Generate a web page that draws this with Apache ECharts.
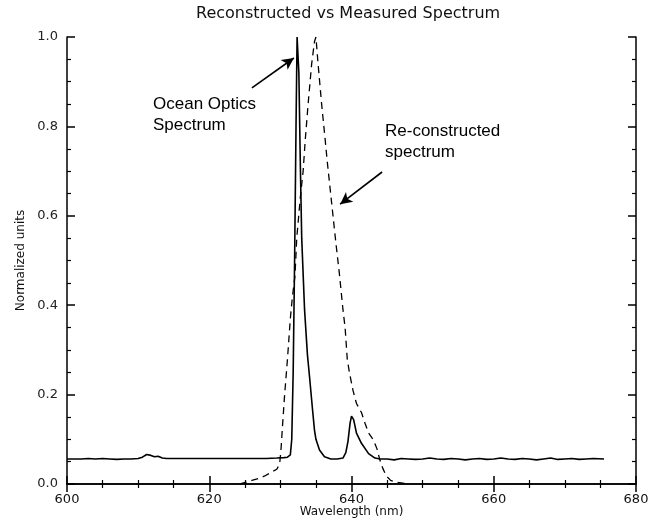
<!DOCTYPE html>
<html>
<head>
<meta charset="utf-8">
<script src="https://cdn.jsdelivr.net/npm/echarts@6/dist/echarts.min.js"></script>
<style>
html, body { margin: 0; padding: 0; background: #fff; }
#chart { width: 651px; height: 521px; }
</style>
</head>
<body>
<div id="chart"></div>
<script>
// Ocean Optics (measured) spectrum
const solidX = [600, 602, 603, 604, 605, 606, 607, 608, 609, 610, 610.6, 611.2, 611.8, 612.3, 612.8, 613.4, 614, 616, 618, 620, 622, 624, 626, 628, 629.5, 630.5, 631.0, 631.4, 631.6, 631.8, 632.0, 632.2, 632.35, 632.6, 632.8, 633.0, 633.4, 633.8, 634.1, 634.5, 634.8, 635.0, 635.5, 636.2, 637.1, 638, 638.8, 639.2, 639.5, 639.8, 640.0, 640.3, 640.7, 641.4, 642.4, 643.3, 644, 645, 646, 647, 648, 649, 650, 651, 652, 653, 654, 655, 656, 657, 658, 659, 660, 661, 662, 663, 664, 665, 666, 667, 668, 669, 670, 671, 672, 673, 674, 675.5]
const solidY = [0.056, 0.056, 0.057, 0.056, 0.057, 0.056, 0.055, 0.056, 0.056, 0.057, 0.060, 0.066, 0.064, 0.061, 0.062, 0.058, 0.057, 0.057, 0.057, 0.057, 0.057, 0.057, 0.057, 0.057, 0.058, 0.059, 0.060, 0.065, 0.10, 0.25, 0.50, 0.80, 1.0, 0.92, 0.72, 0.55, 0.39, 0.29, 0.24, 0.17, 0.12, 0.10, 0.076, 0.061, 0.056, 0.056, 0.058, 0.07, 0.095, 0.136, 0.152, 0.144, 0.114, 0.091, 0.068, 0.058, 0.056, 0.056, 0.054, 0.057, 0.056, 0.055, 0.056, 0.058, 0.056, 0.055, 0.057, 0.056, 0.054, 0.056, 0.057, 0.055, 0.056, 0.058, 0.056, 0.055, 0.057, 0.056, 0.054, 0.056, 0.058, 0.055, 0.056, 0.057, 0.055, 0.056, 0.057, 0.056]
// re-constructed spectrum
const dashX = [624.3, 625.2, 626.0, 626.9, 627.8, 628.8, 629.5, 629.9, 630.1, 630.3, 630.6, 631.0, 631.4, 631.7, 632.05, 632.3, 632.8, 633.2, 633.5, 633.9, 634.4, 634.8, 635.0, 635.3, 635.8, 636.3, 636.6, 637.0, 637.4, 637.8, 638.3, 638.8, 639.1, 639.4, 639.7, 640.2, 640.7, 641.4, 641.9, 642.4, 643.1, 643.6, 644.0, 644.4, 644.9, 645.5, 646.3, 647.2, 648.0]
const dashY = [0.0, 0.004, 0.008, 0.012, 0.018, 0.027, 0.033, 0.045, 0.08, 0.13, 0.2, 0.28, 0.37, 0.42, 0.465, 0.55, 0.64, 0.70, 0.77, 0.85, 0.94, 0.99, 1.0, 0.94, 0.85, 0.77, 0.72, 0.66, 0.6, 0.54, 0.47, 0.39, 0.35, 0.28, 0.25, 0.21, 0.18, 0.16, 0.136, 0.114, 0.098, 0.078, 0.053, 0.035, 0.018, 0.008, 0.004, 0.002, 0.0]
// arrows: [tail, head] in data coords
const arrowOcean = [[626.0, 0.886], [631.9, 0.953]]
const arrowRecon = [[644.3, 0.698], [638.4, 0.626]]

const font = 'DejaVu Sans'

const chart = echarts.init(document.getElementById('chart'), null, {renderer: 'canvas'})

const tickCommon = {
    axisLine: {show: true, lineStyle: {color: '#000', width: 1.5}},
    axisTick: {show: true, inside: true, length: 8, lineStyle: {color: '#000', width: 1.5}},
    minorTick: {show: true, splitNumber: 4, length: 4, lineStyle: {color: '#000', width: 1.2}},
    splitLine: {show: false},
    minorSplitLine: {show: false},
}

const option = {
    animation: false,
    grid: {left: 67, right: 15, top: 37, bottom: 37, outerBoundsMode: 'none', containLabel: false},
    xAxis: [{
        type: 'value', min: 600, max: 680, interval: 20, position: 'bottom',
        name: 'Wavelength (nm)', nameLocation: 'middle', nameGap: 22, nameMoveOverlap: false,
        nameTextStyle: {fontFamily: font, fontSize: 12, color: '#111'},
        axisLabel: {fontFamily: font, fontSize: 13, color: '#111', margin: 9},
        ...tickCommon
    }, {
        type: 'value', min: 600, max: 680, interval: 20, position: 'top',
        axisLabel: {show: false},
        ...tickCommon
    }],
    yAxis: [{
        type: 'value', min: 0, max: 1, interval: 0.2, position: 'left',
        name: 'Normalized units', nameLocation: 'middle', nameGap: 40, nameRotate: 90,
        nameTextStyle: {fontFamily: font, fontSize: 12, color: '#111'},
        axisLabel: {fontFamily: font, fontSize: 13, color: '#222', margin: 9,
            formatter: v => v.toFixed(1)},
        ...tickCommon
    }, {
        type: 'value', min: 0, max: 1, interval: 0.2, position: 'right',
        axisLabel: {show: false},
        ...tickCommon
    }],
    graphic: [
        {type: 'text', left: 351 - 155, top: 6, style: {text: 'Reconstructed vs Measured Spectrum',
            font: '16px "DejaVu Sans"', fill: '#111'}},
        {type: 'text', left: 153, top: 94, style: {text: 'Ocean Optics\nSpectrum',
            font: '17px "Liberation Sans"', fill: '#000', lineHeight: 21}},
        {type: 'text', left: 385, top: 121, style: {text: 'Re-constructed\nspectrum',
            font: '17px "Liberation Sans"', fill: '#000', lineHeight: 21}},
    ],
    series: [{
        name: 'Ocean Optics Spectrum',
        type: 'line',
        data: solidX.map((x, i) => [x, solidY[i]]),
        showSymbol: false,
        lineStyle: {color: '#000', width: 1.6},
        clip: true,
        markLine: {
            silent: true,
            symbol: ['none', 'arrow'],
            symbolSize: [9, 12],
            label: {show: false},
            lineStyle: {color: '#000', width: 1.6, type: 'solid'},
            data: [
                [{coord: arrowOcean[0]}, {coord: arrowOcean[1]}],
                [{coord: arrowRecon[0]}, {coord: arrowRecon[1]}],
            ]
        }
    }, {
        name: 'Re-constructed spectrum',
        type: 'line',
        data: dashX.map((x, i) => [x, dashY[i]]),
        showSymbol: false,
        lineStyle: {color: '#000', width: 1.3, type: [7, 5]},
        clip: true,
    }]
}
chart.setOption(option)
</script>
</body>
</html>
